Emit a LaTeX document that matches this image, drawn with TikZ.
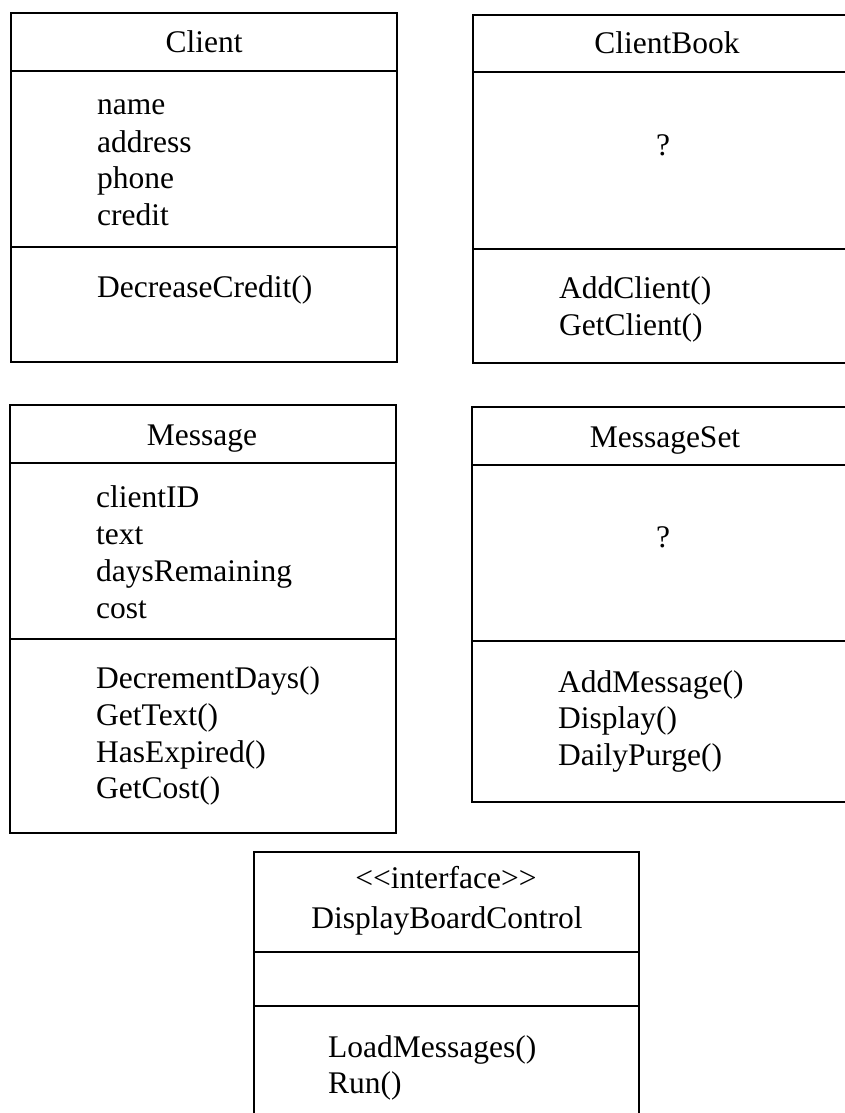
\documentclass[tikz,border=0pt]{standalone}
\usepackage{fontspec}
\setmainfont{Liberation Serif}
\usetikzlibrary{positioning}

\begin{document}
\begin{tikzpicture}[x=1pt,y=-1pt]

\tikzset{
  classname/.style={font=\fontsize{31.5}{36.5}\selectfont, anchor=base, inner sep=0pt},
  member/.style={font=\fontsize{31.5}{36.5}\selectfont, anchor=base west, inner sep=0pt},
  boxline/.style={draw=black, line width=2pt}
}

% left, top, right, bottom, name line, divider
\newcommand{\umlclass}[6]{
  \draw[boxline] (#1,#2) rectangle (#3,#4);
  \draw[boxline] (#1,#5) -- (#3,#5);
  \draw[boxline] (#1,#6) -- (#3,#6);
}

\useasboundingbox (0,0) rectangle (845,1113);
\clip (0,0) rectangle (845,1113);

% Client
\umlclass{11}{13}{397}{362}{71}{247}
\node[classname] (client) at (204,53) {Client};
\node[member] (cname)    at (97,115) {name};
\node[member] (caddress) at (97,152) {address};
\node[member] (cphone)   at (97,188) {phone};
\node[member] (ccredit)  at (97,225) {credit};
\node[member] (cdecr)    at (97,297) {DecreaseCredit()};

% ClientBook
\umlclass{473}{15}{850}{363}{72}{249}
\node[classname] (book) at (667,54) {ClientBook};
\node[classname] (bookattr) at (663,155) {?};
\node[member] (badd) at (559,298) {AddClient()};
\node[member] (bget) at (559,335) {GetClient()};

% Message
\umlclass{10}{405}{396}{833}{463}{639}
\node[classname] (msg) at (202,445) {Message};
\node[member] (mid)    at (96,507) {clientID};
\node[member] (mtext)  at (96,544) {text};
\node[member] (mdays)  at (96,581) {daysRemaining};
\node[member] (mcost)  at (96,618) {cost};
\node[member] (mdecr)  at (96,688) {DecrementDays()};
\node[member] (mgett)  at (96,725) {GetText()};
\node[member] (mexp)   at (96,762) {HasExpired()};
\node[member] (mgetc)  at (96,798) {GetCost()};

% MessageSet
\umlclass{472}{407}{850}{802}{465}{641}
\node[classname] (mset) at (665,447) {MessageSet};
\node[classname] (msetattr) at (663,547) {?};
\node[member] (sadd)   at (558,692) {AddMessage()};
\node[member] (sdisp)  at (558,728) {Display()};
\node[member] (spurge) at (558,765) {DailyPurge()};

% Interface
\umlclass{254}{852}{639}{1125}{952}{1006}
\node[classname] (stereo) at (446,888) {<\kern0pt<interface>\kern0pt>};
\node[classname] (ctrl)   at (447,928) {DisplayBoardControl};
\node[member] (dload) at (328,1057) {LoadMessages()};
\node[member] (drun)  at (328,1093) {Run()};

\end{tikzpicture}
\end{document}
